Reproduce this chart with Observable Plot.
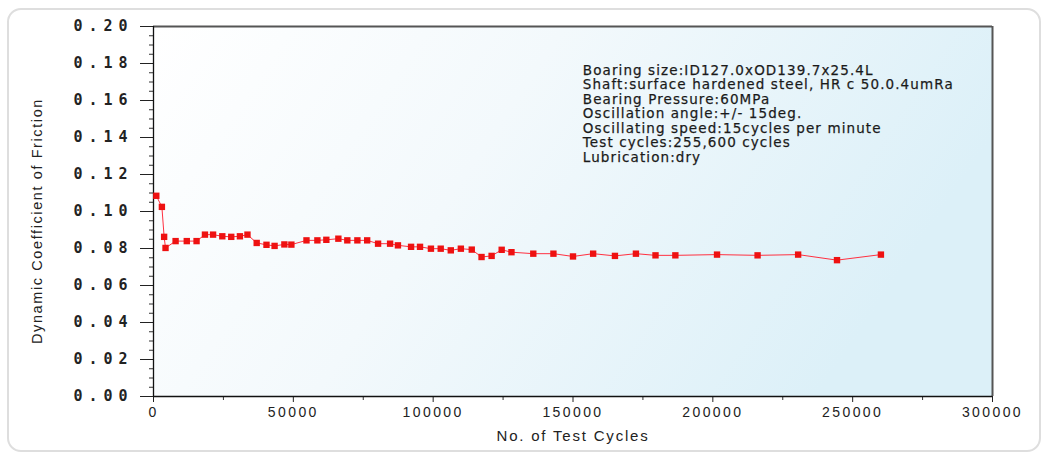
<!DOCTYPE html>
<html><head><meta charset="utf-8">
<script src="https://cdn.jsdelivr.net/npm/d3@7"></script>
<script src="https://cdn.jsdelivr.net/npm/@observablehq/plot@0.6"></script>
<style>
html,body{margin:0;padding:0;background:#fff;width:1044px;height:453px;overflow:hidden;}
#box{position:absolute;left:7px;top:8px;width:1030px;height:440px;border:2px solid #dedede;border-radius:14px;}
#chart{position:absolute;left:0;top:0;}
#chart svg{overflow:visible;}
#chart g[aria-label="y-axis tick label"] text{font-family:"DejaVu Sans Mono",monospace;font-weight:bold;font-size:15px;letter-spacing:6px;fill:#222;}
#chart g[aria-label="x-axis tick label"] text{font-family:"Liberation Sans",Arial,sans-serif;font-size:14px;letter-spacing:2.4px;fill:#222;}
</style></head><body>
<div id="box"></div>
<div id="chart"></div>
<script>
// data
const cycles = [1000, 3000, 3800, 4300, 7900, 11900, 15400, 18400, 21300, 24600, 27800, 30900, 33600,
  36900, 40400, 43300, 46800, 49300, 54700, 58600, 61800, 66100, 69300, 72900, 76400,
  80300, 84600, 87400, 92100, 95300, 99200, 102700, 106300, 109900, 113800, 117300, 120900, 124500, 128000,
  135800, 143000, 150000, 157200, 165000, 172500, 179500, 186600, 201500, 216000, 230500, 244400, 260100];
const friction = [0.1085, 0.1025, 0.0863, 0.0803, 0.084, 0.084, 0.084, 0.0875, 0.0875, 0.0866, 0.0863, 0.0866, 0.0875,
  0.083, 0.082, 0.0814, 0.0822, 0.0821, 0.0844, 0.0844, 0.0847, 0.0853, 0.0844, 0.0844, 0.0844,
  0.0826, 0.0826, 0.0817, 0.0809, 0.0809, 0.0799, 0.0799, 0.079, 0.0799, 0.0794, 0.0754, 0.076, 0.0793, 0.078,
  0.0772, 0.0772, 0.0757, 0.0772, 0.076, 0.0772, 0.0763, 0.0763, 0.0767, 0.0763, 0.0767, 0.0737, 0.0767];
const yTicks = [0, 0.02, 0.04, 0.06, 0.08, 0.10, 0.12, 0.14, 0.16, 0.18, 0.20];
const yMinor = d3.range(0, 0.2001, 0.005).filter(v => Math.abs(v / 0.02 - Math.round(v / 0.02)) > 1e-6);
const xTicks = [0, 50000, 100000, 150000, 200000, 250000, 300000];
const xMinor = [25000, 75000, 125000, 175000, 225000, 275000];
const noteLines = [
  "Boaring size:ID127.0xOD139.7x25.4L",
  "Shaft:surface hardened steel, HR c 50.0.4umRa",
  "Bearing Pressure:60MPa",
  "Oscillation angle:+/- 15deg.",
  "Oscillating speed:15cycles per minute",
  "Test cycles:255,600 cycles",
  "Lubrication:dry"
];
const xTitle = "No. of Test Cycles";
const yTitle = "Dynamic Coefficient of Friction";
const noteAt = {x: 153500, y: 0.1795};

const data = cycles.map((c, i) => ({c, f: friction[i]}));

const plot = Plot.plot({
  width: 1044, height: 453,
  marginLeft: 153, marginRight: 52, marginTop: 26, marginBottom: 57,
  x: {domain: [0, 300000]},
  y: {domain: [0, 0.2]},
  marks: [
    Plot.frame({fill: "url(#bggrad)", stroke: null}),
    Plot.ruleY([0.2], {stroke: "#555", strokeWidth: 2}),
    Plot.ruleX([300000], {stroke: "#555", strokeWidth: 2}),
    Plot.axisY({ticks: yTicks, tickSize: 13, tickPadding: 7, tickFormat: d3.format(".2f"), label: null, stroke: "#222"}),
    Plot.axisY({ticks: yMinor, tickSize: 4, text: null, label: null, stroke: "#333"}),
    Plot.axisX({ticks: xTicks, tickSize: 6, tickPadding: 5, tickFormat: d3.format("d"), label: null, stroke: "#222"}),
    Plot.axisX({ticks: xMinor, tickSize: 4, text: null, label: null, stroke: "#333"}),
    Plot.ruleX([0], {stroke: "#111", strokeWidth: 1.3}),
    Plot.ruleY([0], {stroke: "#111", strokeWidth: 1.3}),
    Plot.line(data, {x: "c", y: "f", stroke: "#ff3040", strokeWidth: 1}),
    Plot.dot(data, {x: "c", y: "f", symbol: "square", r: 3.6, fill: "#ee1111", stroke: null}),
    Plot.text([noteLines.join("\n")], {x: noteAt.x, y: noteAt.y, textAnchor: "start", lineAnchor: "top",
      lineHeight: 1.075, fontSize: 13.5, fontFamily: "DejaVu Sans", fill: "#1a1a1a", stroke: "#333", strokeWidth: 0.25}),
    Plot.text([xTitle], {frameAnchor: "bottom", dy: 44, fontSize: 15, fontFamily: "Liberation Sans", fill: "#222"}),
    Plot.text([yTitle], {frameAnchor: "left", textAnchor: "middle", dx: -116, dy: 9.5, rotate: -90, fontSize: 14.5, fontFamily: "Liberation Sans", fill: "#222"})
  ]
});

const defs = d3.create("svg:defs");
const g = defs.append("linearGradient").attr("id", "bggrad").attr("x1", "0").attr("y1", "0").attr("x2", "1").attr("y2", "0.3");
g.append("stop").attr("offset", "0").attr("stop-color", "#ffffff");
g.append("stop").attr("offset", "0.45").attr("stop-color", "#f3f9fc");
g.append("stop").attr("offset", "1").attr("stop-color", "#dcf0f8");
plot.insertBefore(defs.node(), plot.firstChild);

const spacing = [[noteLines[0], "1.1px"], [xTitle, "1.8px"], [yTitle, "1.6px"]];
d3.select(plot).selectAll("text").each(function () {
  const t = this.textContent;
  for (const [k, ls] of spacing) if (t.startsWith(k)) this.style.letterSpacing = ls;
});
document.getElementById("chart").appendChild(plot);
</script>
</body></html>
